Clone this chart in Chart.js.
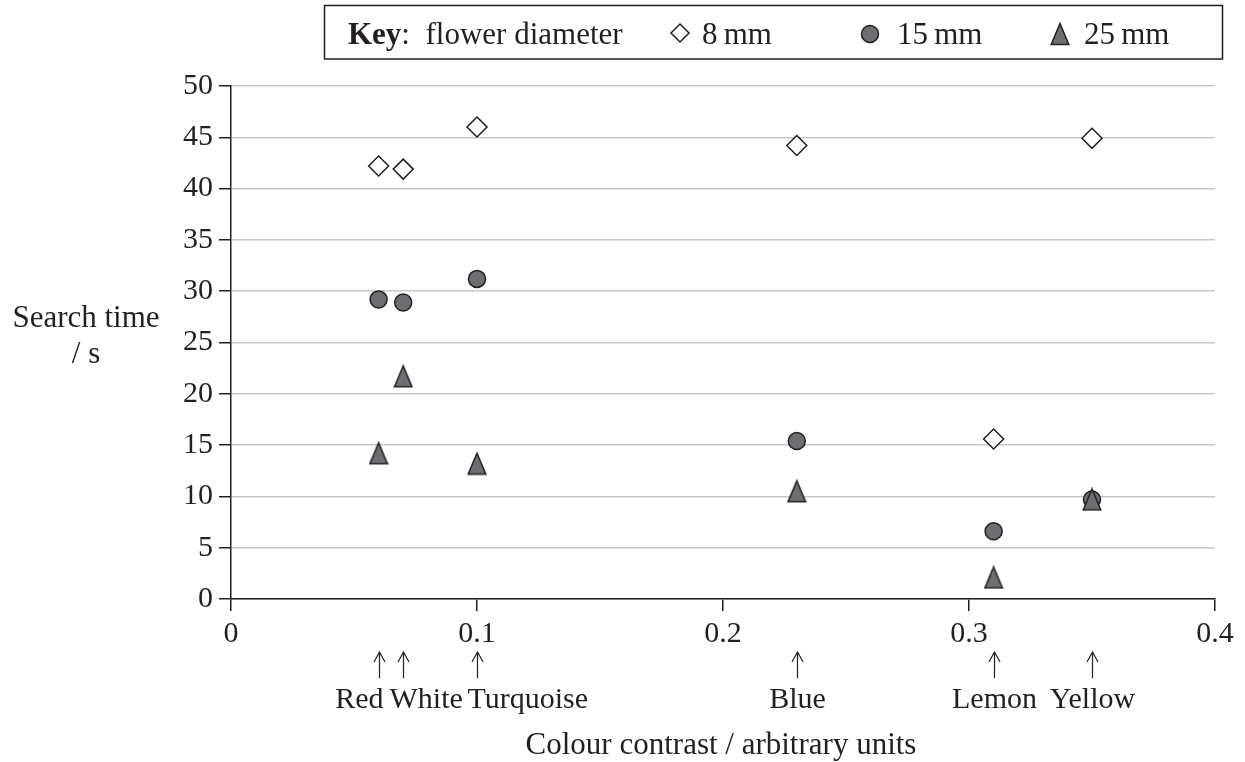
<!DOCTYPE html>
<html>
<head>
<meta charset="utf-8">
<script src="https://cdn.jsdelivr.net/npm/chart.js@4"></script>
<style>
  html, body { margin: 0; padding: 0; background: #fff; }
  #wrap { width: 1245px; height: 762px; }
</style>
</head>
<body>
<div id="wrap"><canvas id="chart" width="1245" height="762"></canvas></div>
<script>
// data
const colourNames = ['Red', 'White', 'Turquoise', 'Blue', 'Lemon', 'Yellow'];
const colourContrast = [0.06, 0.07, 0.10, 0.23, 0.31, 0.35];
const time8mm = [42.2, 41.9, 46.0, 44.2, 15.6, 44.9];
const time15mm = [29.2, 28.9, 31.2, 15.4, 6.6, 9.7];
const time25mm = [14.2, 21.7, 13.2, 10.5, 2.1, 9.7];
const seriesLabels = ['8\u2009mm', '15\u2009mm', '25\u2009mm'];
const xTicks = [0, 0.1, 0.2, 0.3, 0.4];
const yTicks = [0, 5, 10, 15, 20, 25, 30, 35, 40, 45, 50];

const INK = '#231f20';
const FILL = '#6d6e71';
const GRID = '#c7c8ca';
const FONT = '"Liberation Serif", "Times New Roman", serif';

function points(ys) {
    return colourContrast.map((x, i) => ({ x: x, y: ys[i] }));
}

// taller-than-equilateral triangle like the printed one
function makeTriangle() {
    const c = document.createElement('canvas');
    c.width = 20;
    c.height = 24;
    const g = c.getContext('2d');
    g.beginPath();
    g.moveTo(10, 1.5);
    g.lineTo(18.8, 22.5);
    g.lineTo(1.2, 22.5);
    g.closePath();
    g.fillStyle = FILL;
    g.fill();
    g.lineWidth = 1.5;
    g.strokeStyle = INK;
    g.stroke();
    return c;
}
const triangle = makeTriangle();

// how the colour names sit against their arrows
const nameAnchor = { Red: ['right', 4], White: ['left', -14], Turquoise: ['left', -10] };

const extras = {
    id: 'extras',
    afterDraw(chart) {
        const ctx = chart.ctx;
        const xs = chart.scales.x;
        const area = chart.chartArea;
        ctx.save();
        ctx.fillStyle = INK;
        ctx.strokeStyle = INK;
        ctx.textBaseline = 'alphabetic';

        // y axis title, horizontal on two lines
        ctx.font = '31px ' + FONT;
        ctx.textAlign = 'center';
        ctx.fillText('Search time', 86, 327);
        ctx.fillText('/ s', 86, 363);

        // x axis title
        ctx.fillText('Colour contrast / arbitrary units', (area.left + area.right) / 2 - 2, 754);

        // arrows and flower colours
        ctx.font = '30px ' + FONT;
        ctx.lineWidth = 1.2;
        colourNames.forEach((name, i) => {
            const px = Math.round(xs.getPixelForValue(colourContrast[i])) + 0.5;
            ctx.beginPath();
            ctx.moveTo(px, 653);
            ctx.lineTo(px, 678);
            ctx.moveTo(px - 5.5, 662);
            ctx.lineTo(px, 652);
            ctx.lineTo(px + 5.5, 662);
            ctx.stroke();
            const a = nameAnchor[name] || ['center', 0];
            ctx.textAlign = a[0];
            ctx.fillText(name, px + a[1], 708);
        });

        // key box
        ctx.lineWidth = 1.5;
        ctx.strokeRect(324.5, 5.5, 898, 53.5);
        ctx.textAlign = 'left';
        ctx.font = 'bold 31px ' + FONT;
        ctx.fillText('Key', 348, 44);
        let kx = 348 + ctx.measureText('Key').width;
        ctx.font = '31px ' + FONT;
        ctx.fillText(':  flower diameter', kx, 44);

        // diamond
        ctx.beginPath();
        ctx.moveTo(680, 24);
        ctx.lineTo(689, 33);
        ctx.lineTo(680, 42);
        ctx.lineTo(671, 33);
        ctx.closePath();
        ctx.fillStyle = '#ffffff';
        ctx.fill();
        ctx.stroke();
        ctx.fillStyle = INK;
        ctx.fillText(seriesLabels[0], 702, 44);

        // circle
        ctx.beginPath();
        ctx.arc(870, 34, 8.5, 0, Math.PI * 2);
        ctx.fillStyle = FILL;
        ctx.fill();
        ctx.stroke();
        ctx.fillStyle = INK;
        ctx.fillText(seriesLabels[1], 897, 44);

        // triangle
        ctx.drawImage(triangle, 1050, 22);
        ctx.fillText(seriesLabels[2], 1084, 44);
        ctx.restore();
    }
};

new Chart(document.getElementById('chart'), {
    type: 'scatter',
    data: {
        datasets: [
            {
                label: seriesLabels[0],
                data: points(time8mm),
                pointStyle: 'rectRot',
                pointRadius: 10,
                backgroundColor: '#ffffff',
                borderColor: INK,
                borderWidth: 1.5,
                order: 2
            },
            {
                label: seriesLabels[1],
                data: points(time15mm),
                pointStyle: 'circle',
                pointRadius: 8.5,
                backgroundColor: FILL,
                borderColor: INK,
                borderWidth: 1.5,
                order: 1
            },
            {
                label: seriesLabels[2],
                data: points(time25mm),
                pointStyle: triangle,
                pointRadius: 10,
                backgroundColor: FILL,
                borderColor: INK,
                order: 0
            }
        ]
    },
    options: {
        responsive: false,
        animation: false,
        events: [],
        layout: {
            padding: { top: 86, right: 30, left: 0, bottom: 0 }
        },
        plugins: {
            legend: { display: false },
            tooltip: { enabled: false }
        },
        scales: {
            x: {
                type: 'linear',
                min: 0,
                max: 0.4,
                afterFit: function(scale) { scale.height = 163; },
                afterBuildTicks: function(scale) {
                    scale.ticks = xTicks.map(v => ({ value: v }));
                },
                ticks: {
                    color: INK,
                    font: { family: FONT, size: 30 },
                    padding: 5,
                    maxRotation: 0,
                    callback: function(value) { return String(value); }
                },
                grid: {
                    drawOnChartArea: false,
                    tickColor: INK,
                    tickLength: 12,
                    lineWidth: 1.5
                },
                border: { color: INK, width: 1.5 }
            },
            y: {
                min: 0,
                max: 50,
                afterFit: function(scale) { scale.width = 231; },
                afterBuildTicks: function(scale) {
                    scale.ticks = yTicks.map(v => ({ value: v }));
                },
                ticks: {
                    color: INK,
                    font: { family: FONT, size: 30 },
                    padding: 6
                },
                grid: {
                    color: GRID,
                    tickColor: INK,
                    tickLength: 12,
                    lineWidth: 1.5
                },
                border: { color: INK, width: 1.5 }
            }
        }
    },
    plugins: [extras]
});
</script>
</body>
</html>
